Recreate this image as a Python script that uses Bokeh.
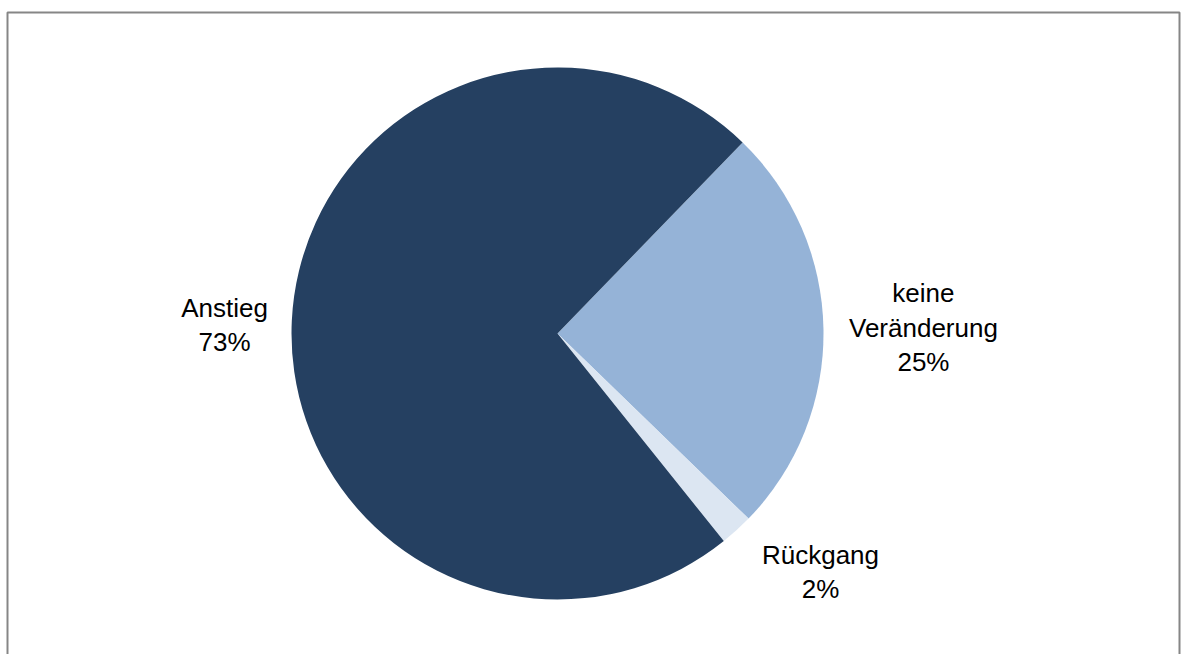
import math
from bokeh.plotting import figure
from bokeh.models import Range1d, ColumnDataSource, BoxAnnotation
from bokeh.core.properties import value
from bokeh.embed import file_html
from bokeh.resources import INLINE

# --- data ---
categories = ["keine Veränderung", "Rückgang", "Anstieg"]
label_names = ["keine\nVeränderung", "Rückgang", "Anstieg"]
shares = [25, 2, 73]  # percent

# --- style ---
colors = ["#95B3D7", "#DCE6F2", "#254061"]
first_slice_angle_deg = 45.9
radius = 266
label_dist = [366, 355, 333]       # distance of label centre from pie centre (px)
label_angle_nudge = [0.0, 5.5, 1.2]  # degrees
W, H = 1181, 654
CX, CY = 557, 333                  # pie centre on canvas (px from left / top)
FRAME_L, FRAME_T, FRAME_R = 7, 12, 1179

total = float(sum(shares))
starts, ends, mids = [], [], []
a = math.radians(first_slice_angle_deg)
for s in shares:
    span = 2 * math.pi * s / total
    starts.append(a)
    ends.append(a - span)
    mids.append(a - span / 2)
    a -= span

src = ColumnDataSource(dict(start=starts, end=ends, color=colors, name=categories))

p = figure(width=W, height=H, output_backend="svg", toolbar_location=None,
           x_range=Range1d(-CX, W - CX), y_range=Range1d(-(H - CY), CY),
           min_border=0)
p.axis.visible = False
p.grid.visible = False
p.outline_line_color = None
p.background_fill_color = "white"
p.border_fill_color = "white"

frame = BoxAnnotation(left=FRAME_L - CX, right=FRAME_R - CX, top=CY - FRAME_T,
                      bottom=-(H - CY) - 20, fill_color=None, fill_alpha=0,
                      line_color="#868686", line_width=2, line_alpha=1)
p.add_layout(frame)

p.wedge(x=0, y=0, radius=radius, start_angle="start", end_angle="end",
        direction="clock", fill_color="color", line_color=None, source=src)

lx, ly, lt = [], [], []
for i, m in enumerate(mids):
    ang = m + math.radians(label_angle_nudge[i])
    lx.append(label_dist[i] * math.cos(ang))
    ly.append(label_dist[i] * math.sin(ang))
    lt.append(f"{label_names[i]}\n{shares[i]}%")

lsrc = ColumnDataSource(dict(x=lx, y=ly, text=lt))
p.text(x="x", y="y", text="text", source=lsrc, text_align="center",
       text_baseline="middle", text_font=value("Liberation Sans"),
       text_font_size="26px", text_color="black", text_line_height=1.15)

open("out.html", "w").write(file_html(p, INLINE))
